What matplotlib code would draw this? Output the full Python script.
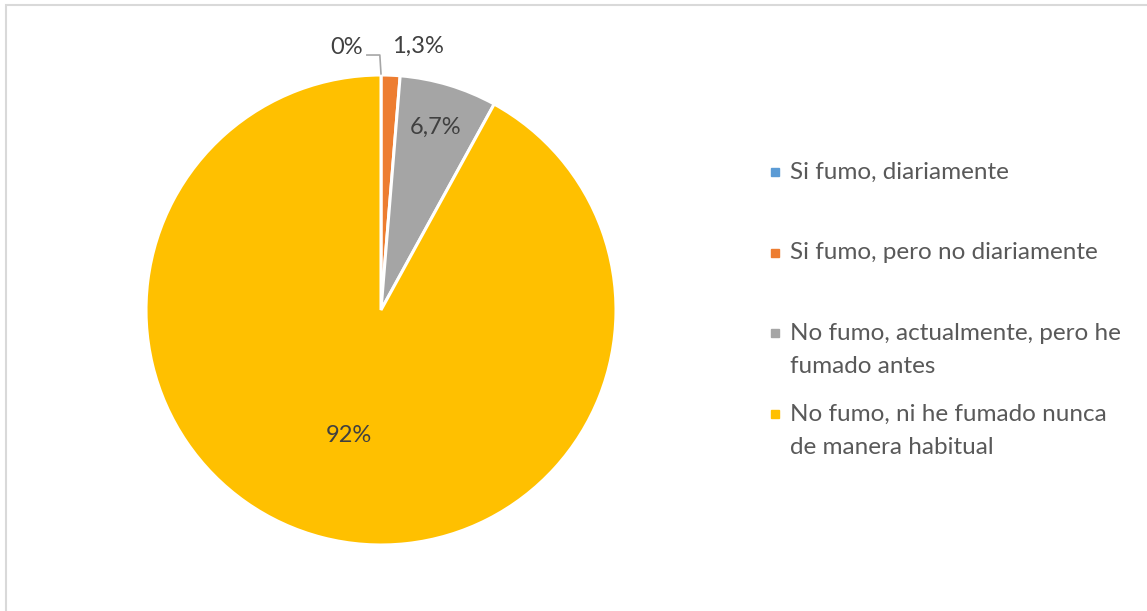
import numpy as np
import matplotlib.pyplot as plt
from matplotlib.patches import Rectangle

categories = ["Si fumo, diariamente",
              "Si fumo, pero no diariamente",
              "No fumo, actualmente, pero he\nfumado antes",
              "No fumo, ni he fumado nunca\nde manera habitual"]
values = [0.0, 1.3, 6.7, 92.0]
value_labels = ["0%", "1,3%", "6,7%", "92%"]
colors = ["#5B9BD5", "#ED7D31", "#A5A5A5", "#FFC000"]

plt.rcParams['font.family'] = ['Lato', 'DejaVu Sans']

W, H = 1147, 611
fig = plt.figure(figsize=(W / 100, H / 100), dpi=100)

# light frame, cut at right/bottom edges
fig.add_artist(Rectangle((6 / W, -0.1), 1.2, (H - 5) / H + 0.1, transform=fig.transFigure,
                         fill=False, edgecolor="#d9d9d9", linewidth=1.5))

cx, cy, r = 381, 310, 235
ax = fig.add_axes([(cx - r) / W, (H - cy - r) / H, 2 * r / W, 2 * r / H])
wedges, _ = ax.pie(values, colors=colors, startangle=90, counterclock=False,
                   wedgeprops=dict(edgecolor="white", linewidth=2.2))
ax.set_xlim(-1, 1)
ax.set_ylim(-1, 1)
ax.set_aspect("equal")
ax.axis("off")

txt = dict(color="#404040", fontsize=17, ha="center", va="center")

# labels inside the two big slices, along the middle angle
for i, rad in ((2, 0.81), (3, 0.55)):
    w = wedges[i]
    mid = np.deg2rad((w.theta1 + w.theta2) / 2)
    ax.text(rad * np.cos(mid), rad * np.sin(mid), value_labels[i], **txt)

# small slices get outside labels
ax.text(0.158, 1.123, value_labels[1], **txt)
ax.text(-0.145, 1.115, value_labels[0], **txt)
ax.plot([-0.06, -0.005, 0.0], [1.085, 1.085, 1.005], color="#a6a6a6", lw=1.2,
        clip_on=False)

# legend, one text per line so the marker sits on the first line
leg_x = 790
rows = [172, 253, 333, 414]
line_h = 33.5
for lab, col, y in zip(categories, colors, rows):
    fig.add_artist(Rectangle(((leg_x - 19) / W, (H - y - 4) / H), 8 / W, 8 / H,
                             transform=fig.transFigure, color=col))
    for k, part in enumerate(lab.split("\n")):
        fig.text(leg_x / W, (H - y - k * line_h) / H, part, color="#595959",
                 fontsize=17.5, ha="left", va="center")

fig.savefig("out.png", dpi=100)
